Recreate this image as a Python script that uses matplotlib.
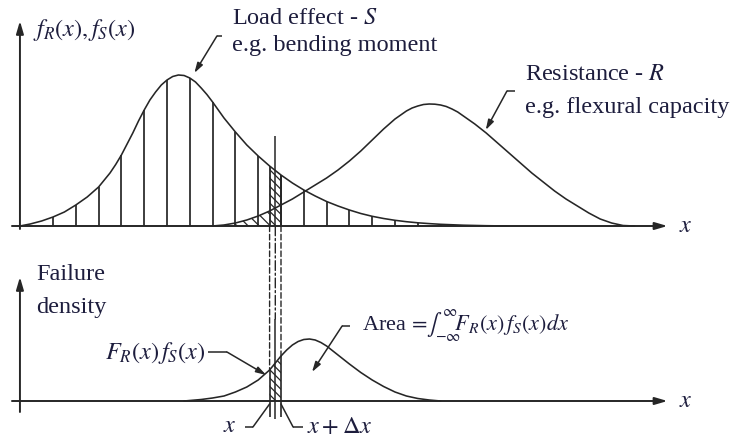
import numpy as np
import matplotlib.pyplot as plt
from matplotlib.patches import ConnectionPatch

# ---------------------------------------------------------------
#  curve samples (x in hatch steps, density in arbitrary units)
# ---------------------------------------------------------------
load_x = [-0.45, 0, 0.5, 1, 1.5, 2, 2.5, 3, 3.5, 3.75, 4, 4.25, 4.5, 4.75,
          5, 5.25, 5.5, 5.75, 6, 6.25, 6.5, 6.75, 7, 7.25, 7.5, 7.75, 8,
          8.25, 8.5, 8.75, 9, 9.5, 10, 10.5, 11, 11.5, 12, 12.5, 13, 13.5,
          14, 14.5, 15, 15.5, 16, 16.5, 17, 17.5, 18, 19, 20, 21]
load_f = [0.00, 0.02, 0.05, 0.09, 0.14, 0.21, 0.29, 0.39, 0.53, 0.615, 0.71,
          0.82, 0.93, 1.05, 1.16, 1.26, 1.34, 1.41, 1.46, 1.495, 1.51, 1.505,
          1.48, 1.44, 1.38, 1.315, 1.24, 1.16, 1.08, 1.01, 0.94, 0.81, 0.70,
          0.60, 0.51, 0.43, 0.36, 0.30, 0.245, 0.20, 0.16, 0.125, 0.097,
          0.075, 0.057, 0.043, 0.032, 0.024, 0.017, 0.008, 0.003, 0.0]

resist_x = [8, 8.5, 9, 9.5, 10, 10.5, 11, 11.5, 12, 12.5, 13, 13.5, 14, 14.5,
            15, 15.5, 15.75, 16, 16.25, 16.5, 16.75, 17, 17.25, 17.5, 17.75,
            18, 18.25, 18.5, 18.75, 19, 19.5, 20, 20.5, 21, 21.5, 22, 22.5,
            23, 23.5, 24, 24.5, 25, 25.5, 26, 26.5]
resist_f = [0.0, 0.01, 0.03, 0.06, 0.10, 0.15, 0.21, 0.27, 0.34, 0.41, 0.48,
            0.56, 0.65, 0.75, 0.86, 0.97, 1.02, 1.07, 1.11, 1.15, 1.18, 1.20,
            1.215, 1.22, 1.218, 1.21, 1.195, 1.17, 1.14, 1.10, 1.02, 0.93,
            0.83, 0.73, 0.63, 0.53, 0.44, 0.35, 0.27, 0.20, 0.13, 0.07, 0.03,
            0.005, 0.0]

fail_x = [6.75, 7, 7.5, 8, 8.5, 9, 9.5, 10, 10.5, 11, 11.25, 11.5, 11.75, 12,
          12.25, 12.5, 12.75, 13, 13.5, 14, 14.5, 15, 15.5, 16, 16.5, 17,
          17.5, 18]
fail_f = [0.0, 0.005, 0.015, 0.03, 0.05, 0.09, 0.14, 0.21, 0.31, 0.45, 0.51,
          0.56, 0.595, 0.615, 0.62, 0.61, 0.585, 0.55, 0.46, 0.37, 0.285,
          0.21, 0.145, 0.09, 0.05, 0.025, 0.01, 0.0]

hatch_steps = list(range(1, 19))     # vertical hatching under the load curve
strip = (10.5, 11.0)                 # x .. x + dx
strip_mid = 10.75

INK = "#262626"
TEXT = "#1d1d3d"

plt.rcParams.update({
    "font.family": "Liberation Serif",
    "mathtext.fontset": "stix",
    "font.size": 17.5,
    "text.color": TEXT,
    "hatch.color": INK,
    "hatch.linewidth": 0.9,
})

W, H = 740, 439
fig = plt.figure(figsize=(W / 100, H / 100), dpi=100)


def place(ax, left, top, width, height):
    ax.set_position([left / W, 1 - (top + height) / H, width / W, height / H])


ax_top = fig.add_axes([0, 0, 1, 1])
ax_bot = fig.add_axes([0, 0, 1, 1])
place(ax_top, 7.4, 7, 695.4, 240)
place(ax_bot, 7.4, 272, 695.4, 160)
ax_top.set_xlim(-1.0, 29.5)
ax_top.set_ylim(-0.2, 2.2)
ax_bot.set_xlim(-1.0, 29.5)
ax_bot.set_ylim(-0.3, 1.3)
for ax in (ax_top, ax_bot):
    ax.axis("off")

AX_X = -0.45
ARROW = dict(arrowstyle="-|>,head_length=0.75,head_width=0.22", color=INK,
             lw=1.4, shrinkA=0, shrinkB=0, mutation_scale=10)
LEAD = dict(arrowstyle="-|>,head_length=0.6,head_width=0.18", color=INK,
            lw=1.1, shrinkA=0, shrinkB=0, mutation_scale=10)


def axes_arrows(ax, y_lo, y_hi):
    ax.annotate("", xy=(AX_X, y_hi), xytext=(AX_X, y_lo), arrowprops=ARROW,
                annotation_clip=False)
    ax.annotate("", xy=(27.95, 0), xytext=(-0.8, 0), arrowprops=ARROW,
                annotation_clip=False)
    ax.text(28.45, 0, "$x$", ha="left", va="center", fontsize=17.5)


def leader(ax, start, knee, tip, arrow=True):
    ax.plot([start[0], knee[0]], [start[1], knee[1]], color=INK, lw=1.1,
            clip_on=False, solid_capstyle="butt")
    style = LEAD if arrow else dict(arrowstyle="-", color=INK, lw=1.1,
                                    shrinkA=0, shrinkB=0)
    ax.annotate("", xy=tip, xytext=knee, arrowprops=style,
                annotation_clip=False)


lx, lf = np.array(load_x), np.array(load_f)
rx, rf = np.array(resist_x), np.array(resist_f)
fx, ff = np.array(fail_x), np.array(fail_f)

# ---------------- upper panel: f_R and f_S ----------------
axes_arrows(ax_top, -0.03, 2.05)
ax_top.plot(lx, lf, color=INK, lw=1.15, clip_on=False)
ax_top.plot(rx, rf, color=INK, lw=1.15, clip_on=False)

on_grid = np.isin(lx, hatch_steps)
ax_top.vlines(lx[on_grid], 0, lf[on_grid], color=INK, lw=1.25)

# F_R(x): area under the resistance curve left of x
tail = rx <= strip[0]
ax_top.fill_between(rx[tail], 0, rf[tail], facecolor="none", edgecolor=INK,
                    hatch="\\\\\\", lw=0)

# the x .. x+dx strip under f_S
in_strip = (lx >= strip[0]) & (lx <= strip[1])
ax_top.fill_between(lx[in_strip], 0, lf[in_strip], facecolor="none",
                    edgecolor=INK, hatch="\\\\\\\\", lw=0)
ax_top.vlines(lx[in_strip], 0, lf[in_strip], color=INK, lw=1.3)
ax_top.vlines(strip_mid, 0, 0.9, color=INK, lw=1.1)

ax_top.text(0.12, 1.97, "$f_R(x),f_S(x)$", ha="left", va="center",
            fontsize=17.5)
ax_top.text(8.85, 2.09, "Load effect - $S$", ha="left", va="center")
ax_top.text(8.85, 1.82, "e.g. bending moment", ha="left", va="center")
leader(ax_top, (8.41, 1.90), (8.19, 1.90), (7.2, 1.53))

ax_top.text(21.7, 1.52, "Resistance - $R$", ha="left", va="center")
ax_top.text(21.7, 1.20, "e.g. flexural capacity", ha="left", va="center")
leader(ax_top, (21.26, 1.35), (20.91, 1.35), (19.98, 0.96))

# ---------------- lower panel: failure density ----------------
axes_arrows(ax_bot, -0.11, 1.24)
ax_bot.plot(fx, ff, color=INK, lw=1.15, clip_on=False)

f_strip = (fx >= strip[0]) & (fx <= strip[1])
ax_bot.fill_between(fx[f_strip], 0, ff[f_strip], facecolor="none",
                    edgecolor=INK, hatch="\\\\\\\\", lw=0)
ax_bot.vlines(fx[f_strip], -0.16, ff[f_strip], color=INK, lw=1.2)
ax_bot.vlines(strip_mid, -0.18, 0.82, color=INK, lw=1.1)

# dashed projection lines joining the two panels
for xv, top_y in zip(fx[f_strip], ff[f_strip]):
    con = ConnectionPatch(xyA=(xv, 0), coordsA="data", axesA=ax_top,
                          xyB=(xv, top_y), coordsB="data", axesB=ax_bot,
                          color=INK, lw=1.0, linestyle=(0, (4, 2)))
    fig.add_artist(con)
con = ConnectionPatch(xyA=(strip_mid, 0), coordsA="data", axesA=ax_top,
                      xyB=(strip_mid, 0.82), coordsB="data", axesB=ax_bot,
                      color=INK, lw=1.0, linestyle=(0, (7, 2, 1.5, 2)))
fig.add_artist(con)

ax_bot.text(0.25, 1.27, "Failure", ha="left", va="center")
ax_bot.text(0.25, 0.95, "density", ha="left", va="center")

ax_bot.text(7.67, 0.49, "$F_R(x)\\, f_S(x)$", ha="right", va="center",
            fontsize=17.5)
leader(ax_bot, (7.8, 0.49), (8.63, 0.49), (10.35, 0.26))

ax_bot.text(14.55, 0.77,
            "Area$\\,=\\!\\int_{-\\infty}^{\\infty}\\!\\!F_R(x)\\, f_S(x)dx$",
            ha="left", va="center", fontsize=16)
leader(ax_bot, (14.03, 0.75), (13.68, 0.75), (12.36, 0.29))

ax_bot.text(8.77, -0.25, "$x$", ha="center", va="center", fontsize=17.5)
leader(ax_bot, (9.42, -0.26), (9.77, -0.26), (10.5, -0.03), arrow=False)
ax_bot.text(12.14, -0.26, "$x + \\Delta x$", ha="left", va="center",
            fontsize=17.5)
leader(ax_bot, (11.96, -0.26), (11.53, -0.26), (11.0, -0.03), arrow=False)

fig.savefig("out.png", dpi=100, facecolor="white")
